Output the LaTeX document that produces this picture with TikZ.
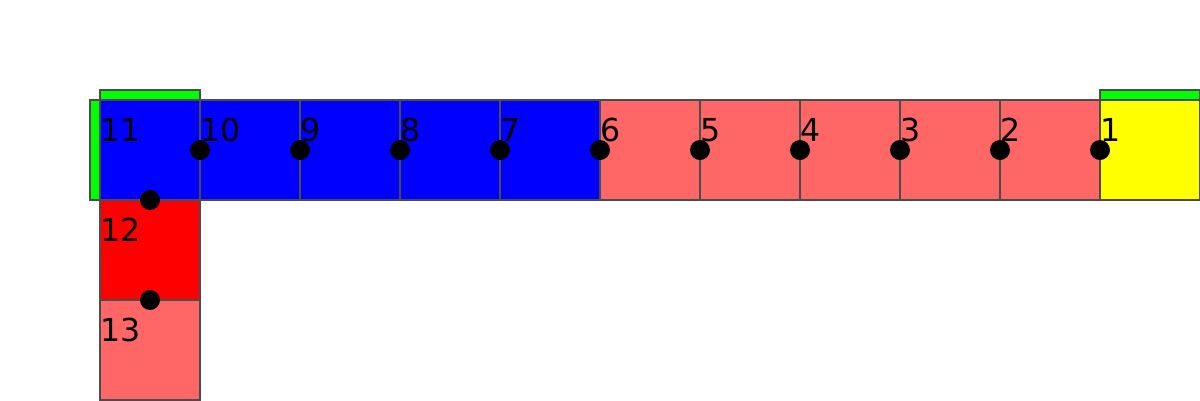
\documentclass[tikz,border=0pt]{standalone}
\usepackage{fontspec}
\setmainfont{DejaVu Sans}
\usetikzlibrary{positioning}
\definecolor{cblue}{HTML}{0000FF}
\definecolor{cred}{HTML}{FF0000}
\definecolor{salmon}{HTML}{FF6666}
\definecolor{cyellow}{HTML}{FFFF00}
\definecolor{cgreen}{HTML}{00FF00}

\begin{document}
\begin{tikzpicture}[
  x=1cm, y=-1cm,
  cell/.style = {draw=black!70, line width=0.3pt, minimum size=1cm, inner sep=0pt, outer sep=0pt, anchor=north west},
  bar/.style = {draw=black!70, line width=0.3pt, fill=cgreen, inner sep=0pt, outer sep=0pt},
  num/.style = {anchor=base west, inner sep=0pt, font=\fontsize{9}{10}\selectfont},
  dot/.style = {circle, fill=black, minimum size=2mm, inner sep=0pt}
]
\useasboundingbox (0,0) rectangle (12,4);
% top row
\foreach \k/\col in {11/cblue,10/cblue,9/cblue,8/cblue,7/cblue,6/salmon,5/salmon,4/salmon,3/salmon,2/salmon,1/cyellow}
  \node[cell, fill=\col] (c\k) at ({12-\k},1) {};
% column below 11
\node[cell, fill=cred] (c12) at (1,2) {};
\node[cell, fill=salmon] (c13) at (1,3) {};
% green bars
\node[bar, minimum width=1cm, minimum height=1mm, anchor=south west] (b11top) at (c11.north west) {};
\node[bar, minimum width=1mm, minimum height=1cm, anchor=north east] (b11left) at (c11.north west) {};
\node[bar, minimum width=1cm, minimum height=1mm, anchor=south west] (b1top) at (c1.north west) {};
% numbers
\foreach \k in {1,...,13}
  \node[num] (l\k) at ([yshift=-4.1mm]c\k.north west) {\k};
% dots
\foreach \k in {1,...,10}
  \node[dot] (d\k) at (c\k.west) {};
\node[dot] (d12) at (c12.north) {};
\node[dot] (d13) at (c13.north) {};
\end{tikzpicture}
\end{document}
